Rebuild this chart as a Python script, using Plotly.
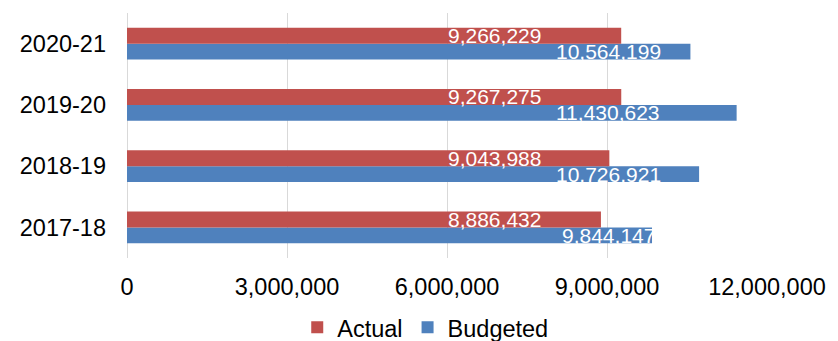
import plotly.graph_objects as go

categories = ["2017-18", "2018-19", "2019-20", "2020-21"]
actual = [8886432, 9043988, 9267275, 9266229]
budgeted = [9844147, 10726921, 11430623, 10564199]
x_ticks = [0, 3000000, 6000000, 9000000, 12000000]
x_tick_labels = ["0", "3,000,000", "6,000,000", "9,000,000", "12,000,000"]

RED = "#C0504D"
BLUE = "#4F81BD"
FONT = "Liberation Sans, Arial, sans-serif"

fig = go.Figure()
fig.add_trace(go.Bar(name="Budgeted", y=categories, x=budgeted, orientation="h",
                     marker=dict(color=BLUE, line=dict(width=0))))
fig.add_trace(go.Bar(name="Actual", y=categories, x=actual, orientation="h",
                     marker=dict(color=RED, line=dict(width=0))))

# value labels (white, placed at fixed positions within the bars)
label_x = {"Actual": 6.89e6, "Budgeted": 9.02e6}
for cat, a, b in zip(categories, actual, budgeted):
    fig.add_annotation(x=label_x["Actual"], y=cat, yshift=8, text=f"{a:,}", showarrow=False,
                       font=dict(family=FONT, size=21, color="white"), xanchor="center", yanchor="middle")
    fig.add_annotation(x=label_x["Budgeted"], y=cat, yshift=-8, text=f"{b:,}", showarrow=False,
                       font=dict(family=FONT, size=21, color="white"), xanchor="center", yanchor="middle")

fig.update_layout(
    width=838, height=341,
    margin=dict(l=127, r=71, t=13, b=83, autoexpand=False),
    barmode="group", bargap=0.478, bargroupgap=0,
    plot_bgcolor="white", paper_bgcolor="white",
    font=dict(family=FONT, size=23.5, color="black"),
    showlegend=True,
    legend=dict(orientation="h", traceorder="reversed", x=0.466, xanchor="center",
                y=-0.284, yanchor="middle", font=dict(size=23.5), itemwidth=30),
    xaxis=dict(range=[0, 12000000], tickvals=x_ticks, ticktext=x_tick_labels,
               showgrid=True, gridcolor="#D9D9D9", gridwidth=1.3, zeroline=True,
               zerolinecolor="#D9D9D9", zerolinewidth=1.3, showline=False,
               ticks="", ticklabelstandoff=12, tickfont=dict(size=23.5)),
    yaxis=dict(categoryorder="array", categoryarray=categories, showgrid=False,
               zeroline=False, showline=False, ticks="", ticklabelstandoff=20,
               tickfont=dict(size=23.5)),
)

fig.write_html("out.html")
